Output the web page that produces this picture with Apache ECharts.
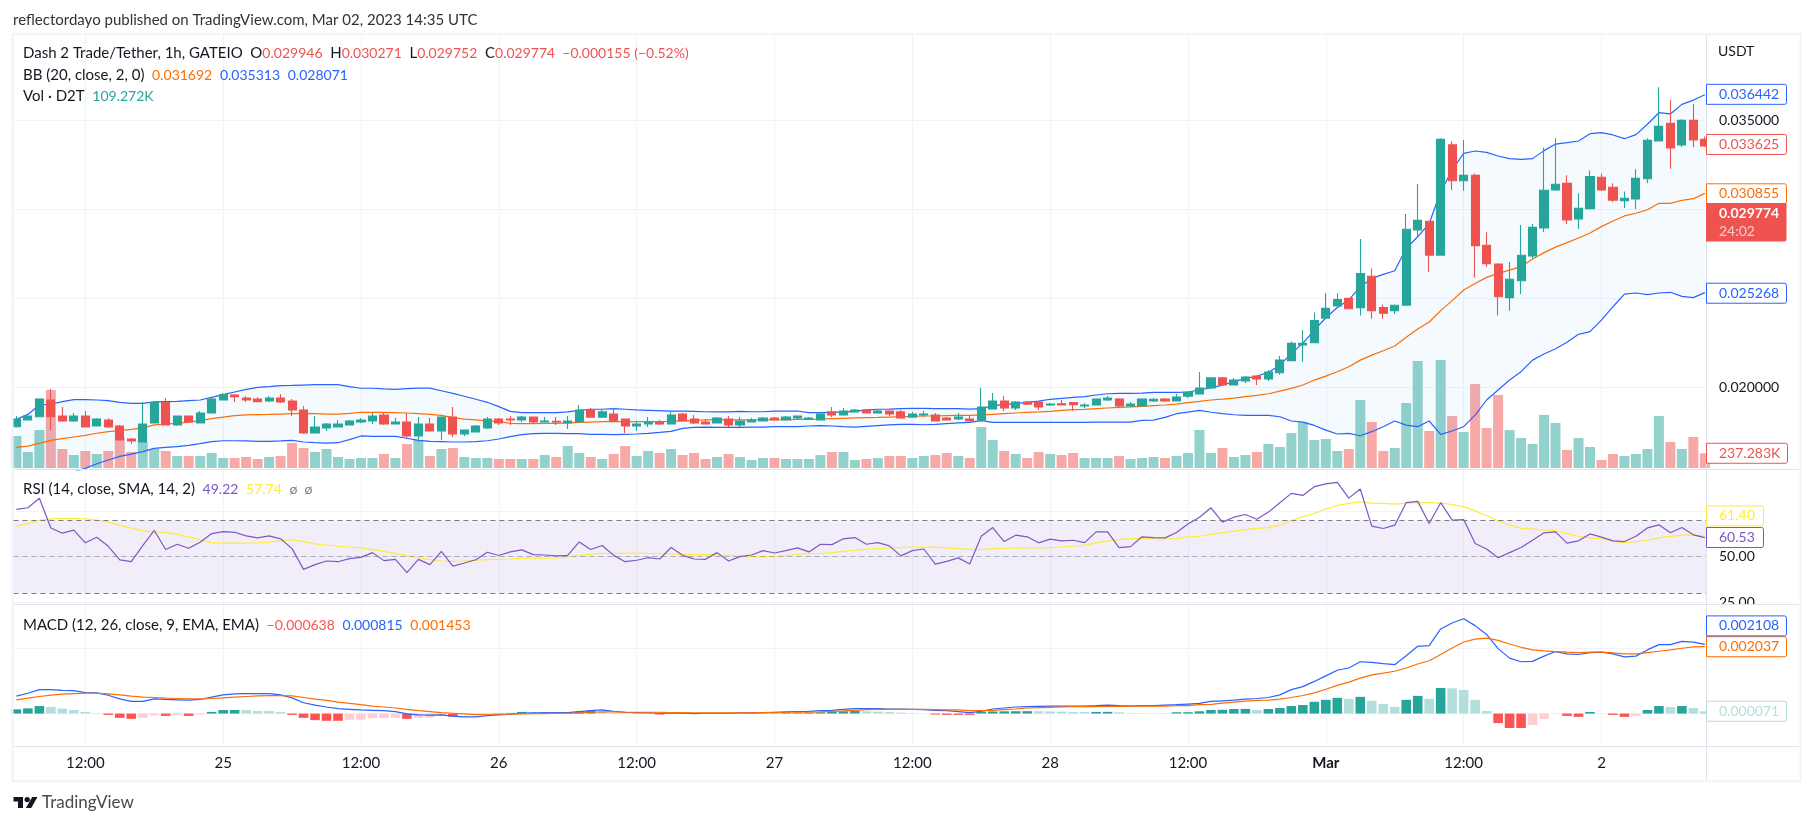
<!DOCTYPE html>
<html><head><meta charset="utf-8">
<script src="https://cdn.jsdelivr.net/npm/echarts@6/dist/echarts.min.js"></script>
<style>html,body{margin:0;padding:0;background:#fff}#c{width:1814px;height:825px}</style></head>
<body><div id="c"></div>
<script>
const opens=[.01777,.01815,.01833,.01927,.01837,.01809,.01837,.01781,.01815,.01781,
.01708,.01691,.01798,.01912,.01787,.01837,.01798,.01854,.01927,.01955,
.01938,.01933,.01921,.01938,.01921,.01871,.01742,.01770,.01775,.01787,
.01803,.01809,.01843,.01792,.01803,.01725,.01792,.01753,.01831,.01736,
.01747,.01770,.01820,.01820,.01815,.01831,.01803,.01807,.01798,.01803,
.01871,.01831,.01848,.01820,.01781,.01792,.01803,.01792,.01848,.01820,
.01803,.01798,.01820,.01787,.01803,.01809,.01826,.01815,.01826,.01818,
.01815,.01860,.01843,.01860,.01871,.01854,.01865,.01860,.01831,.01843,
.01843,.01826,.01820,.01820,.01815,.01876,.01921,.01882,.01916,.01916,
.01899,.01906,.01912,.01893,.01899,.01927,.01933,.01893,.01893,.01921,
.01933,.01921,.01949,.01961,.01994,.02051,.02011,.02034,.02062,.02045,
.02080,.02148,.02236,.02249,.02387,.02455,.02498,.02445,.02622,.02447,
.02429,.02460,.02882,.02931,.02741,.03360,.03159,.03189,.02796,.02691,
.02502,.02597,.02736,.02893,.03107,.03144,.02944,.03002,.03178,.03122,
.03047,.03056,.03170,.03382,.03481,.03360,.03498,.03391];
const highs=[.01837,.01837,.01933,.01989,.01888,.01854,.01865,.01826,.01824,.01787,
.01715,.01916,.01912,.01938,.01837,.01837,.01865,.01938,.01966,.01961,
.01948,.01942,.01949,.01961,.01933,.01893,.01837,.01798,.01815,.01815,
.01826,.01854,.01854,.01826,.01854,.01831,.01826,.01831,.01888,.01758,
.01787,.01831,.01826,.01837,.01837,.01831,.01831,.01831,.01837,.01899,
.01882,.01871,.01882,.01820,.01803,.01831,.01815,.01860,.01854,.01843,
.01820,.01831,.01837,.01831,.01826,.01831,.01831,.01837,.01837,.01831,
.01860,.01888,.01882,.01876,.01876,.01871,.01865,.01871,.01860,.01865,
.01854,.01831,.01854,.01837,.01994,.01966,.01949,.01921,.01921,.01921,
.01910,.01927,.01912,.01910,.01933,.01949,.01938,.01916,.01933,.01938,
.01938,.01961,.01972,.02084,.02051,.02056,.02051,.02062,.02062,.02095,
.02174,.02256,.02320,.02419,.02526,.02526,.02498,.02831,.02666,.02464,
.02464,.02972,.03140,.02931,.03397,.03380,.03388,.03200,.02869,.02695,
.02702,.02910,.02916,.03346,.03397,.03189,.03088,.03217,.03200,.03144,
.03099,.03223,.03397,.03684,.03612,.03504,.03590,.03408];
const lows=[.01772,.01815,.01833,.01758,.01805,.01805,.01775,.01781,.01770,.01702,
.01680,.01691,.01798,.01787,.01783,.01798,.01798,.01854,.01927,.01916,
.01916,.01916,.01916,.01910,.01837,.01736,.01742,.01753,.01775,.01787,
.01796,.01792,.01787,.01790,.01713,.01691,.01753,.01702,.01719,.01725,
.01747,.01764,.01787,.01787,.01803,.01792,.01803,.01787,.01764,.01803,
.01831,.01831,.01809,.01741,.01753,.01775,.01787,.01792,.01809,.01792,
.01792,.01798,.01775,.01775,.01803,.01809,.01815,.01815,.01815,.01815,
.01815,.01831,.01843,.01860,.01854,.01854,.01837,.01826,.01831,.01831,
.01809,.01815,.01815,.01809,.01815,.01876,.01865,.01871,.01899,.01871,
.01893,.01899,.01867,.01882,.01899,.01921,.01888,.01888,.01893,.01916,
.01916,.01921,.01938,.01961,.01989,.02011,.02011,.02022,.02011,.02034,
.02069,.02148,.02142,.02249,.02387,.02455,.02440,.02401,.02384,.02384,
.02410,.02460,.02837,.02648,.02738,.03107,.03103,.02614,.02676,.02401,
.02429,.02522,.02723,.02871,.03101,.02916,.02888,.03002,.03101,.03039,
.03006,.03000,.03146,.03382,.03226,.03348,.03348,.03348];
const closes=[.01820,.01837,.01933,.01833,.01809,.01837,.01775,.01820,.01775,.01702,
.01697,.01792,.01912,.01787,.01837,.01803,.01854,.01933,.01957,.01946,
.01927,.01918,.01938,.01916,.01871,.01742,.01775,.01792,.01792,.01809,
.01815,.01837,.01792,.01803,.01725,.01792,.01753,.01831,.01736,.01758,
.01781,.01820,.01798,.01815,.01831,.01803,.01809,.01803,.01809,.01871,
.01831,.01860,.01809,.01781,.01792,.01803,.01792,.01843,.01809,.01798,
.01792,.01826,.01787,.01809,.01815,.01826,.01815,.01831,.01837,.01826,
.01848,.01843,.01865,.01871,.01854,.01865,.01848,.01826,.01848,.01848,
.01809,.01815,.01831,.01809,.01888,.01921,.01882,.01916,.01904,.01888,
.01904,.01899,.01901,.01899,.01933,.01938,.01893,.01904,.01933,.01931,
.01921,.01944,.01972,.01994,.02051,.02011,.02039,.02056,.02045,.02084,
.02151,.02245,.02245,.02374,.02442,.02492,.02440,.02638,.02429,.02415,
.02459,.02886,.02936,.02741,.03391,.03159,.03189,.02794,.02693,.02507,
.02605,.02740,.02897,.03105,.03139,.02938,.03004,.03183,.03107,.03050,
.03060,.03172,.03386,.03464,.03343,.03498,.03388,.03354];
const volumesK=[516,258,612,1257,306,209,274,226,274,483,
258,419,306,274,193,193,193,242,161,161,
177,145,177,193,403,322,258,306,177,145,
161,161,226,161,387,451,193,306,322,177,
161,161,145,145,145,145,209,177,354,242,
177,145,226,354,193,274,242,306,209,242,
145,177,226,177,129,161,161,145,145,145,
209,258,258,129,145,161,193,193,161,193,
209,242,193,161,660,451,274,226,161,258,
226,209,242,161,161,161,193,145,161,177,
161,193,242,612,242,322,177,209,258,387,
338,564,741,451,467,274,306,1095,741,274,
322,1047,1724,596,1740,838,580,1353,644,1176,
612,483,387,854,725,290,483,338,129,226,
193,226,306,838,419,306,499,237.283];
const bbUpper=[.01818,.01846,.01899,.01903,.01918,.01929,.01929,.01927,.01923,.01914,
.01908,.01908,.01916,.01918,.01919,.01923,.01927,.01942,.01957,.01972,
.01987,.01998,.02002,.02008,.02009,.02011,.02013,.02013,.02013,.02002,
.01993,.01993,.01989,.01987,.01991,.01994,.01994,.01979,.01964,.01948,
.01931,.01914,.01890,.01863,.01856,.01856,.01856,.01856,.01860,.01869,
.01875,.01875,.01878,.01875,.01871,.01869,.01867,.01865,.01865,.01863,
.01861,.01860,.01860,.01863,.01861,.01861,.01865,.01865,.01865,.01856,
.01856,.01858,.01860,.01863,.01871,.01875,.01876,.01878,.01880,.01880,
.01878,.01878,.01878,.01876,.01878,.01895,.01901,.01908,.01914,.01921,
.01931,.01936,.01942,.01946,.01955,.01962,.01964,.01964,.01966,.01970,
.01970,.01970,.01972,.01983,.01996,.02011,.02030,.02047,.02062,.02082,
.02123,.02189,.02245,.02320,.02389,.02447,.02489,.02563,.02610,.02633,
.02653,.02779,.02844,.02919,.03097,.03219,.03313,.03326,.03318,.03298,
.03283,.03279,.03283,.03328,.03365,.03373,.03382,.03423,.03429,.03416,
.03395,.03418,.03476,.03541,.03534,.03588,.03612,.03642];
const bbMid=[.01661,.01668,.01683,.01700,.01710,.01719,.01728,.01740,.01749,.01755,
.01762,.01770,.01787,.01792,.01796,.01803,.01811,.01822,.01831,.01839,
.01843,.01845,.01846,.01848,.01850,.01852,.01850,.01848,.01848,.01852,
.01858,.01858,.01858,.01856,.01854,.01850,.01846,.01841,.01828,.01820,
.01815,.01809,.01805,.01796,.01794,.01794,.01796,.01796,.01798,.01801,
.01803,.01805,.01805,.01805,.01805,.01805,.01805,.01807,.01811,.01811,
.01815,.01815,.01815,.01815,.01815,.01816,.01816,.01816,.01818,.01818,
.01820,.01822,.01824,.01826,.01828,.01829,.01831,.01833,.01835,.01837,
.01837,.01839,.01841,.01841,.01843,.01846,.01850,.01854,.01858,.01860,
.01863,.01869,.01873,.01874,.01878,.01882,.01886,.01888,.01891,.01895,
.01899,.01904,.01912,.01919,.01927,.01932,.01938,.01946,.01953,.01962,
.01977,.01992,.02011,.02039,.02061,.02086,.02114,.02151,.02179,.02204,
.02230,.02279,.02326,.02365,.02429,.02485,.02545,.02582,.02616,.02638,
.02657,.02676,.02719,.02755,.02786,.02811,.02837,.02865,.02901,.02933,
.02961,.02976,.02996,.03032,.03032,.03049,.03058,.03088];
const bbLower=[.01504,.01490,.01468,.01498,.01502,.01524,.01543,.01569,.01590,.01610,
.01623,.01637,.01655,.01661,.01665,.01672,.01682,.01693,.01698,.01698,
.01697,.01695,.01695,.01697,.01700,.01691,.01687,.01685,.01687,.01704,
.01725,.01723,.01723,.01723,.01712,.01700,.01695,.01693,.01691,.01691,
.01693,.01698,.01708,.01721,.01732,.01738,.01740,.01740,.01738,.01738,
.01734,.01734,.01732,.01734,.01736,.01740,.01745,.01751,.01768,.01773,
.01775,.01773,.01773,.01773,.01775,.01775,.01777,.01777,.01777,.01781,
.01783,.01781,.01777,.01775,.01779,.01783,.01787,.01790,.01790,.01788,
.01790,.01794,.01798,.01801,.01811,.01801,.01801,.01801,.01801,.01801,
.01801,.01801,.01801,.01801,.01803,.01803,.01803,.01803,.01813,.01814,
.01829,.01850,.01859,.01869,.01858,.01850,.01844,.01841,.01841,.01841,
.01833,.01809,.01803,.01784,.01758,.01736,.01739,.01726,.01749,.01777,
.01809,.01786,.01777,.01809,.01734,.01753,.01777,.01842,.01927,.01983,
.02039,.02086,.02151,.02185,.02215,.02251,.02296,.02311,.02376,.02451,
.02522,.02528,.02519,.02528,.02532,.02509,.02502,.02530];
const rsi=[76.0,76.9,82.1,65.8,62.9,64.6,57.6,60.7,55.7,48.2,
47.2,56.1,64.4,53.9,56.8,54.6,57.9,62.7,63.8,63.4,
61.4,60.3,61.4,59.8,54.4,43.0,45.6,47.6,47.2,48.9,
49.6,52.2,47.8,48.5,41.2,48.5,45.6,52.9,44.8,46.5,
48.3,52.4,50.6,52.6,53.7,51.1,50.9,50.4,50.7,58.1,
53.9,56.1,50.7,47.2,48.0,49.4,48.7,55.0,50.7,48.7,
48.5,52.2,47.6,50.0,50.9,53.3,52.0,53.3,54.8,52.6,
56.8,56.6,59.8,60.5,56.8,57.7,55.9,50.4,53.3,54.2,
45.9,47.4,49.3,45.9,61.2,66.0,58.3,61.8,60.9,57.6,
59.6,58.7,59.0,57.7,63.6,63.6,55.0,55.5,60.9,60.5,
60.3,63.3,67.9,71.7,76.9,69.0,71.7,73.2,70.6,74.5,
79.7,84.8,83.7,88.5,90.0,90.9,82.2,87.2,66.8,65.5,
67.3,79.7,80.4,68.2,79.7,70.1,70.4,57.2,54.2,49.4,
52.2,55.0,59.0,63.1,63.6,57.4,58.7,62.5,60.7,58.7,
58.3,61.2,65.8,67.5,63.1,66.0,62.0,60.5];
const rsiMa=[66.8,68.2,70.1,70.8,71.0,71.0,70.8,70.1,69.0,67.3,
65.7,64.2,63.6,63.3,62.2,60.9,59.2,57.7,57.4,57.4,
57.4,57.6,57.9,58.7,59.4,58.3,57.0,56.4,55.7,55.3,
54.8,53.9,52.9,51.7,50.6,49.4,48.3,47.6,47.4,47.6,
48.0,48.3,48.5,48.7,49.1,49.1,49.1,49.3,49.8,50.7,
51.3,51.8,51.8,51.8,52.0,51.8,51.7,51.5,51.3,51.1,
51.1,50.9,50.7,50.4,50.0,50.0,50.2,50.6,51.3,51.7,
51.8,52.2,52.9,53.5,54.1,54.4,54.8,55.0,55.2,55.3,
55.2,54.8,54.4,54.1,53.9,54.4,54.6,54.6,54.8,54.8,
55.0,55.3,55.7,56.3,57.6,58.7,59.4,59.9,59.9,59.8,
59.8,59.9,60.9,61.2,62.2,63.1,64.0,64.9,65.5,66.0,
67.3,69.9,71.9,73.8,76.2,78.2,79.3,80.2,79.5,79.3,
78.9,79.5,79.7,79.7,79.5,78.6,77.5,75.2,72.5,69.7,
67.3,65.5,65.1,64.6,64.4,62.7,61.2,60.3,59.8,58.5,
57.7,58.3,59.0,60.3,61.1,61.8,62.0,61.4];
// MACD pane values, in units of 0.00001
const macdLineE5=[53,62,73,73,71,70,64,63,56,45,
37,37,45,43,42,41,43,50,57,60,
61,61,61,57,48,33,26,20,15,13,
11,10,9,6,-1,-4,-5,-4,-8,-10,
-10,-6,-4,-2,1,2,2,3,3,6,
9,11,7,4,3,2,1,1,1,0,
1,1,1,2,2,3,4,5,6,7,
9,10,13,15,15,15,14,14,13,12,
10,9,6,3,7,14,17,20,21,22,
23,23,23,23,24,26,24,23,24,24,
26,27,29,31,37,39,41,44,46,49,
57,73,82,98,115,132,139,158,156,152,
149,176,205,207,258,276,289,268,241,198,
169,158,159,175,189,182,180,186,187,182,
173,175,194,210,210,220,218,211];
const macdSignalE5=[42,47,52,56,59,61,62,62,60,57,
53,50,49,47,46,45,45,46,48,50,
52,54,55,55,54,49,44,40,35,31,
27,23,20,17,13,9,6,3,1,-1,
-3,-2,-2,-2,-1,0,0,1,1,2,
4,5,5,4,4,4,4,3,3,2,
2,2,2,2,2,3,3,4,4,4,
5,7,8,10,12,13,13,13,13,13,
12,11,11,9,9,10,12,14,17,18,
19,20,21,21,21,22,22,23,23,23,
23,24,24,27,28,32,35,38,40,41,
44,49,55,63,74,86,96,108,118,123,
129,139,151,161,180,200,218,227,230,223,
212,202,194,191,189,187,186,187,187,185,
182,182,186,190,194,199,203,204];
const macdHistE5=[13,16,23,20,15,11,5,1,-4,-13,
-16,-13,-5,-7,-4,-7,-3,5,11,11,
10.5,8,7.8,5,-4,-13,-20,-22,-22,-19,
-18.5,-14,-13.5,-13,-16,-13,-12,-5,-9,-2,
-1,0,1,2,5,4,4,4,4,6,
8,5,2,1,-1,0,-3,0,0,-1,
-1,0,0,0,1,1,1,2,2,3,
4,6,7,8,7,6,5,3,1,0,
-3,-4,-4,-4,6,6.5,7,7.2,7.4,7,
6.6,6,5,4.8,5,5.2,4,1,.9,.8,
.7,4,4.2,7,11,11.5,14,14.3,11,14,
17,23,26,36,42,48,45,51,39,29,
20,42,54,45,78,77,72,42,8,-29,
-44,-44,-35,-16,-1,-7,-10,5,0,-4,
-10,-7,11,23,20,23,17,7];
const xTickLabels=['12:00','25','12:00','26','12:00','27','12:00','28','12:00','Mar','12:00','2'];
const priceTicks=[.020,.025,.030,.035], priceLabels=[.020,.035];
const rsiTicks=[25,50,75], rsiLabels=[25,50];
const macdTicks=[0,.002];
const priceTags=[{v:.036442,t:'0.036442',c:'#2962ff'},{v:.033625,t:'0.033625',c:'#ef5350'},{v:.030855,t:'0.030855',c:'#ff6d00'},{v:.025268,t:'0.025268',c:'#2962ff'}];
const lastPrice=.029774, lastPriceText='0.029774', countdown='24:02';
const volumeTag={v:237.283,t:'237.283K',c:'#ef5350'};
const rsiTags=[{v:61.40,t:'61.40',c:'#ffeb3b',dy:-20},{v:60.53,t:'60.53',c:'#7e57c2',dy:0}];
const macdTags=[{v:.000071,t:'0.000071',c:'#b2dfdb',dy:0},{v:.002037,t:'0.002037',c:'#ff6d00',dy:0},{v:.002108,t:'0.002108',c:'#2962ff',dy:-18.5}];

// x is hours since Feb 24 2023 06:00; first labelled tick is 12:00 that day
const hours=opens.map((_,i)=>i);
const xTicks=xTickLabels.map((_,k)=>6+k*12);
const xMin=-0.261, xMax=147.1;
const FONT='Lato', UP='#26a69a', DN='#ef5350', GRID='#f0f3fa', SEP='#e0e3eb', INK='#131722';
const pair=a=>a.map((v,i)=>[hours[i],v]);
const e5=a=>a.map(v=>v*1e-5);
const L=13.4,W=1692.6;

const chart=echarts.init(document.getElementById('c'),null,{renderer:'canvas'});
const xAxis=g=>({type:'value',gridIndex:g,min:xMin,max:xMax,
  axisLine:{show:false,onZero:false},axisTick:{show:false,customValues:xTicks},
  splitLine:{show:true,lineStyle:{color:GRID,width:1}},
  axisLabel:g===2?{show:true,customValues:xTicks,margin:10,color:INK,fontFamily:FONT,fontSize:15,
    formatter:(v)=>{const s=xTickLabels[xTicks.indexOf(v)];return s==='Mar'?'{b|Mar}':s;},
    rich:{b:{fontFamily:FONT,fontSize:15,fontWeight:'bold',color:INK}}}:{show:false}});
const yAxis=(g,min,max,ticks,labels,fmt)=>({type:'value',gridIndex:g,position:'right',min,max,
  axisLine:{show:false},axisTick:{show:false,customValues:ticks},
  splitLine:{show:true,lineStyle:{color:GRID,width:1}},
  axisLabel:labels?{show:true,customValues:labels,margin:13,color:INK,fontFamily:FONT,fontSize:14,formatter:fmt}:{show:false}});

const macdHistColor=p=>{const i=p.dataIndex,h=macdHistE5[i],q=i?macdHistE5[i-1]:h;
  return h>=0?(h>=q?'#26a69a':'#b2dfdb'):(h<=q?'#ff5252':'#ffcdd2');};
// one polygon between the upper and lower band, kept inside the pane
const bandRender=(params,api)=>{
  if(params.dataIndex!==0) return null;
  const cs=params.coordSys, bottom=cs.y+cs.height;
  const top=hours.map((h,i)=>api.coord([h,bbUpper[i]]));
  const low=hours.map((h,i)=>{const p=api.coord([h,bbLower[i]]);return [p[0],Math.min(p[1],bottom)];}).reverse();
  return {type:'polygon',shape:{points:top.concat(low)},style:{fill:'rgba(33,150,243,0.05)'}};
};

chart.setOption({animation:false,backgroundColor:'#fff',
 grid:[{left:L,width:W,top:33,height:437},{left:L,width:W,top:470,height:134.5},{left:L,width:W,top:604.5,height:141.5}],
 xAxis:[xAxis(0),xAxis(1),xAxis(2)],
 yAxis:[
  yAxis(0,.015337,.039888,priceTicks,priceLabels,v=>v.toFixed(6)),
  {type:'value',gridIndex:0,min:-32,max:7003,show:false,splitLine:{show:false}},
  yAxis(1,23.65,97.68,rsiTicks,rsiLabels,v=>v.toFixed(2)),
  yAxis(2,-.000988,.003324,macdTicks,null)
 ],
 series:[
  {type:'bar',name:'Vol',xAxisIndex:0,yAxisIndex:1,z:1,barWidth:10,data:pair(volumesK),
   itemStyle:{color:p=>closes[p.dataIndex]>=opens[p.dataIndex]?'#93d2cc':'#f7a9a7'}},
  {type:'custom',name:'BB band',xAxisIndex:0,yAxisIndex:0,z:2,silent:true,renderItem:bandRender,data:pair(bbMid)},
  {type:'line',name:'BB upper',xAxisIndex:0,yAxisIndex:0,z:3,showSymbol:false,lineStyle:{width:1.2,color:'#2962ff'},data:pair(bbUpper)},
  {type:'line',name:'BB lower',xAxisIndex:0,yAxisIndex:0,z:3,showSymbol:false,lineStyle:{width:1.2,color:'#2962ff'},data:pair(bbLower)},
  {type:'line',name:'BB basis',xAxisIndex:0,yAxisIndex:0,z:3,showSymbol:false,lineStyle:{width:1.2,color:'#ff6d00'},data:pair(bbMid)},
  {type:'candlestick',name:'D2T',xAxisIndex:0,yAxisIndex:0,z:4,barWidth:8.6,
   encode:{x:0,y:[1,2,3,4]},
   data:hours.map((t,i)=>[t,opens[i],closes[i],lows[i],highs[i]]),
   itemStyle:{color:UP,color0:DN,borderColor:UP,borderColor0:DN,borderWidth:1.1}},
  {type:'line',name:'RSI MA',xAxisIndex:1,yAxisIndex:2,z:3,showSymbol:false,lineStyle:{width:1.2,color:'#ffeb3b'},data:pair(rsiMa)},
  {type:'line',name:'RSI',xAxisIndex:1,yAxisIndex:2,z:4,showSymbol:false,lineStyle:{width:1.2,color:'#7e57c2'},data:pair(rsi),
   markArea:{silent:true,itemStyle:{color:'rgba(126,87,194,0.1)'},data:[[{yAxis:30},{yAxis:70}]]},
   markLine:{silent:true,symbol:'none',label:{show:false},lineStyle:{type:[5,4],width:1,color:'#787b86'},
     data:[{yAxis:70},{yAxis:50,lineStyle:{color:'rgba(120,123,134,0.55)'}},{yAxis:30}]}},
  {type:'bar',name:'Histogram',xAxisIndex:2,yAxisIndex:3,z:1,barWidth:9.6,data:pair(e5(macdHistE5)),itemStyle:{color:macdHistColor}},
  {type:'line',name:'MACD',xAxisIndex:2,yAxisIndex:3,z:3,showSymbol:false,lineStyle:{width:1.2,color:'#2962ff'},data:pair(e5(macdLineE5))},
  {type:'line',name:'Signal',xAxisIndex:2,yAxisIndex:3,z:4,showSymbol:false,lineStyle:{width:1.2,color:'#ff6d00'},data:pair(e5(macdSignalE5))}
 ]});

const R=1706;
function tag(cy,text,color,w){const h=20;return [
 {type:'rect',z:60,shape:{x:R+.5,y:cy-h/2,width:w,height:h,r:[0,2,2,0]},style:{fill:'#fff',stroke:color,lineWidth:1}},
 {type:'text',z:61,x:R+13,y:cy,style:{text,fill:color,font:`14px ${FONT}`,textVerticalAlign:'middle'}}];}
function line(x1,y1,x2,y2,c,lw){return {type:'line',z:50,shape:{x1,y1,x2,y2},style:{stroke:c,lineWidth:lw||1}};}
const rs=(c,s)=>({fill:c,fontFamily:FONT,fontSize:s||14});
const rich={k:rs(INK,15),r:rs('#ef5350'),o:rs('#ff6d00'),b:rs('#2962ff'),g:rs('#26a69a'),p:rs('#7e57c2'),y:rs('#ffeb3b'),a:rs('#787b86'),m:rs('#ff5252')};
function legend(y,s){return {type:'text',z:70,x:23,y,style:{text:s,rich,fill:INK,font:`15px ${FONT}`,textVerticalAlign:'middle'}};}
const yP=v=>chart.convertToPixel({yAxisIndex:0},v), yV=v=>chart.convertToPixel({yAxisIndex:1},v),
      yR=v=>chart.convertToPixel({yAxisIndex:2},v), yM=v=>chart.convertToPixel({yAxisIndex:3},v);
let els=[
 {type:'rect',z:40,shape:{x:1708,y:605,width:91,height:12},style:{fill:'#fff'}},
 {type:'rect',z:45,shape:{x:12.5,y:34.3,width:1788,height:747},style:{fill:'none',stroke:GRID,lineWidth:2}},
 line(14,469.5,1799,469.5,SEP),line(14,604.5,1799,604.5,SEP),line(14,746.5,1799,746.5,SEP),line(R+.5,35,R+.5,780,SEP),
 {type:'text',z:70,x:13,y:20,style:{text:'reflectordayo published on TradingView.com, Mar 02, 2023 14:35 UTC',fill:'#333',font:`15px ${FONT}`,textVerticalAlign:'middle'}},
 {type:'text',z:70,x:1718,y:51,style:{text:'USDT',fill:INK,font:`14px ${FONT}`,textVerticalAlign:'middle'}},
 legend(53,'{k|Dash 2 Trade/Tether, 1h, GATEIO  O}{r|0.029946}{k|  H}{r|0.030271}{k|  L}{r|0.029752}{k|  C}{r|0.029774  −0.000155 (−0.52%)}'),
 legend(75,'{k|BB (20, close, 2, 0)  }{o|0.031692}{k|  }{b|0.035313}{k|  }{b|0.028071}'),
 legend(96,'{k|Vol · D2T  }{g|109.272K}'),
 legend(489,'{k|RSI (14, close, SMA, 14, 2)  }{p|49.22}{k|  }{y|57.74}{k|  }{a|ø  ø}'),
 legend(625,'{k|MACD (12, 26, close, 9, EMA, EMA)  }{m|−0.000638}{k|  }{b|0.000815}{k|  }{o|0.001453}'),
 {type:'polygon',z:70,shape:{points:[[13.5,797],[23,797],[23,808],[18,808],[18,801.5],[13.5,801.5]]},style:{fill:'#131722'}},
 {type:'circle',z:70,shape:{cx:27.2,cy:799.6,r:2.7},style:{fill:'#131722'}},
 {type:'polygon',z:70,shape:{points:[[32.2,797],[37.5,797],[31.2,808],[25.9,808]]},style:{fill:'#131722'}},
 {type:'text',z:70,x:42,y:803,style:{text:'TradingView',fill:'#4a4a4a',font:`17px ${FONT}`,textVerticalAlign:'middle'}}
];
priceTags.forEach(t=>els=els.concat(tag(yP(t.v),t.t,t.c,80)));
const yLast=yP(lastPrice);
els.push({type:'rect',z:62,shape:{x:R,y:yLast-10,width:80.5,height:38.5,r:[0,2,2,0]},style:{fill:'#ef5350'}});
els.push({type:'text',z:63,x:R+13,y:yLast,style:{text:lastPriceText,fill:'#fff',font:`bold 14px ${FONT}`,textVerticalAlign:'middle'}});
els.push({type:'text',z:63,x:R+13,y:yLast+18,style:{text:countdown,fill:'rgba(255,255,255,.7)',font:`14px ${FONT}`,textVerticalAlign:'middle'}});
els=els.concat(tag(yV(volumeTag.v),volumeTag.t,volumeTag.c,81));
rsiTags.forEach(t=>els=els.concat(tag(yR(t.v)+t.dy,t.t,t.c,57)));
macdTags.forEach(t=>els=els.concat(tag(yM(t.v)+t.dy,t.t,t.c,80)));
chart.setOption({graphic:{elements:els}});
</script></body></html>
